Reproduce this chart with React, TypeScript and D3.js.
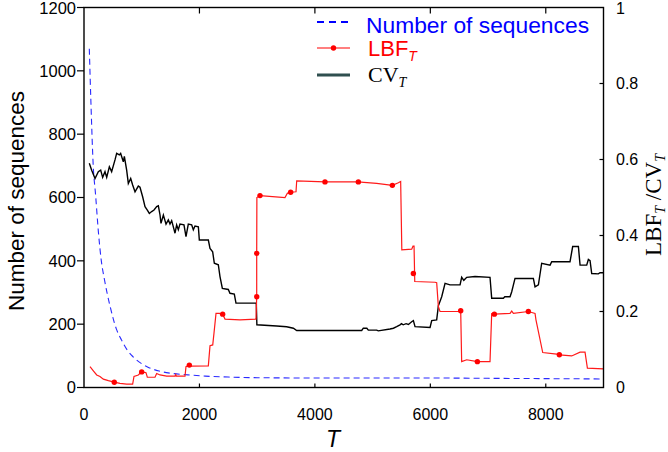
import React from "react";
import * as d3 from "d3";

// ---- data ----
const seqT = [92, 120, 160, 200, 250, 300, 350, 450, 560, 650, 750, 850, 1000, 1100, 1300, 1500, 1800, 2100, 2500, 3000, 4000, 5000, 6000, 7000, 8000, 9000];
const seqN = [1070, 900, 700, 610, 490, 400, 345, 258, 185, 150, 118, 97, 75, 65, 52, 45, 40, 36, 33, 31, 30, 30, 30, 29, 28, 27];

const lbfT = [104, 162, 220, 277, 335, 422, 525, 624, 739, 843, 866, 941, 999, 1050, 1074, 1097, 1230, 1259, 1317, 1432, 1577, 1590, 1600, 1750, 1767, 1825, 1840, 2154, 2183, 2230, 2252, 2287, 2345, 2402, 2443, 2703, 2980, 2992, 2992, 2995, 3049, 3482, 3523, 3580, 3673, 3685, 4175, 4753, 4850, 5070, 5342, 5446, 5486, 5506, 5677, 5700, 5718, 5730, 6081, 6110, 6139, 6168, 6515, 6526, 6543, 6630, 6815, 7034, 7063, 7109, 7381, 7410, 7439, 7698, 7814, 7830, 7947, 8190, 8235, 8449, 8594, 8680, 8721, 8998];
const lbfV = [0.055, 0.044, 0.033, 0.029, 0.022, 0.018, 0.014, 0.011, 0.009, 0.009, 0.029, 0.033, 0.041, 0.040, 0.039, 0.027, 0.027, 0.037, 0.033, 0.030, 0.030, 0.034, 0.030, 0.030, 0.055, 0.059, 0.056, 0.057, 0.110, 0.112, 0.143, 0.195, 0.195, 0.193, 0.180, 0.178, 0.180, 0.239, 0.353, 0.500, 0.505, 0.500, 0.511, 0.514, 0.515, 0.544, 0.541, 0.541, 0.540, 0.537, 0.532, 0.539, 0.542, 0.362, 0.364, 0.372, 0.372, 0.279, 0.277, 0.276, 0.213, 0.200, 0.200, 0.202, 0.068, 0.073, 0.068, 0.068, 0.194, 0.193, 0.195, 0.201, 0.195, 0.200, 0.195, 0.178, 0.092, 0.088, 0.086, 0.083, 0.093, 0.093, 0.051, 0.049];

const lbfDotT = [525, 999, 1825, 2402, 2992, 2992, 3049, 3580, 4175, 4753, 5342, 5706, 6526, 6815, 7109, 7698, 8235];
const lbfDotV = [0.014, 0.041, 0.059, 0.193, 0.239, 0.353, 0.505, 0.514, 0.541, 0.541, 0.532, 0.300, 0.202, 0.068, 0.193, 0.200, 0.086];

const cvT = [92, 133, 191, 248, 289, 323, 364, 393, 439, 479, 537, 566, 612, 635, 681, 699, 739, 768, 809, 843, 884, 941, 970, 1016, 1057, 1097, 1132, 1172, 1213, 1259, 1288, 1317, 1334, 1375, 1421, 1461, 1490, 1519, 1577, 1605, 1634, 1663, 1732, 1767, 1807, 1865, 1894, 1923, 1981, 1998, 2154, 2183, 2229, 2258, 2327, 2356, 2397, 2500, 2529, 2604, 2633, 2985, 2995, 3338, 3511, 3627, 3685, 4811, 4839, 4900, 4926, 5070, 5099, 5301, 5360, 5417, 5475, 5500, 5530, 5580, 5620, 5677, 5706, 5735, 5995, 6024, 6110, 6139, 6197, 6255, 6341, 6515, 6543, 6580, 6630, 6774, 7034, 7063, 7265, 7290, 7381, 7410, 7467, 7785, 7814, 7872, 7929, 8074, 8103, 8420, 8466, 8565, 8594, 8709, 8738, 8767, 8796, 8911, 8940, 8998];
const cvV = [0.590, 0.572, 0.550, 0.568, 0.572, 0.553, 0.568, 0.553, 0.581, 0.568, 0.599, 0.616, 0.612, 0.616, 0.594, 0.608, 0.572, 0.537, 0.550, 0.533, 0.515, 0.530, 0.527, 0.502, 0.476, 0.467, 0.458, 0.463, 0.467, 0.476, 0.478, 0.454, 0.432, 0.454, 0.430, 0.441, 0.430, 0.439, 0.406, 0.428, 0.415, 0.430, 0.428, 0.397, 0.430, 0.428, 0.415, 0.425, 0.423, 0.388, 0.388, 0.366, 0.357, 0.327, 0.323, 0.292, 0.261, 0.258, 0.248, 0.246, 0.222, 0.222, 0.165, 0.162, 0.160, 0.156, 0.150, 0.150, 0.156, 0.156, 0.151, 0.151, 0.149, 0.154, 0.156, 0.160, 0.165, 0.168, 0.165, 0.168, 0.166, 0.173, 0.176, 0.160, 0.158, 0.176, 0.178, 0.215, 0.239, 0.274, 0.270, 0.270, 0.290, 0.282, 0.290, 0.292, 0.290, 0.235, 0.235, 0.239, 0.239, 0.252, 0.287, 0.287, 0.265, 0.270, 0.327, 0.322, 0.331, 0.331, 0.371, 0.371, 0.322, 0.322, 0.337, 0.334, 0.300, 0.299, 0.302, 0.302];

const xTicks = [0, 2000, 4000, 6000, 8000];
const leftTicks = [0, 200, 400, 600, 800, 1000, 1200];
const rightTicks = [0, 0.2, 0.4, 0.6, 0.8, 1];
const rightTickLabels = ["0", "0.2", "0.4", "0.6", "0.8", "1"];

const W = 668, H = 452;
const M = { left: 84, right: 64.5, top: 7.5, bottom: 64.5 };
const SANS = "'Liberation Sans', Arial, Helvetica, sans-serif";
const SERIF = "'Liberation Serif', 'Times New Roman', serif";

export default function App() {
  const x = d3.scaleLinear().domain([0, 9000]).range([M.left, W - M.right]);
  const yL = d3.scaleLinear().domain([0, 1200]).range([H - M.bottom, M.top]);
  const yR = d3.scaleLinear().domain([0, 1]).range([H - M.bottom, M.top]);

  const seqPath = d3.line<number>().x((_, i) => x(seqT[i])).y((d) => yL(d)).curve(d3.curveMonotoneX)(seqN) || "";
  const lbfPath = d3.line<number>().x((_, i) => x(lbfT[i])).y((d) => yR(d))(lbfV) || "";
  const cvPath = d3.line<number>().x((_, i) => x(cvT[i])).y((d) => yR(d))(cvV) || "";

  const x0 = x(0), x1 = x(9000), y0 = yL(0), y1 = yL(1200);

  return (
    <svg width={W} height={H} style={{ position: "absolute", left: 0, top: 0, background: "#fff" }}>
      <rect x={0} y={0} width={W} height={H} fill="#fff" />
      {/* data lines */}
      <path d={seqPath} fill="none" stroke="#2a2aff" strokeWidth={1.1} strokeDasharray="6,4" />
      <path d={cvPath} fill="none" stroke="#000" strokeWidth={1.4} strokeLinejoin="miter" />
      <path d={lbfPath} fill="none" stroke="#ff1a1a" strokeWidth={1.2} />
      {lbfDotT.map((t, i) => (
        <circle key={i} cx={x(t)} cy={yR(lbfDotV[i])} r={2.7} fill="#ff0000" />
      ))}

      {/* frame */}
      <rect x={x0} y={y1} width={x1 - x0} height={y0 - y1} fill="none" stroke="#000" strokeWidth={1.4} />

      {/* bottom & top ticks */}
      {xTicks.filter((t) => t > 0).map((t) => (
        <g key={"xt" + t}>
          <line x1={x(t)} x2={x(t)} y1={y0} y2={y0 - 4} stroke="#000" strokeWidth={1.2} />
          <line x1={x(t)} x2={x(t)} y1={y1} y2={y1 + 6} stroke="#000" strokeWidth={1.2} />
        </g>
      ))}
      {xTicks.map((t) => (
        <text key={"xl" + t} x={x(t)} y={420} textAnchor="middle" fontFamily={SANS} fontSize={16} fill="#000">
          {t}
        </text>
      ))}

      {/* left ticks */}
      {leftTicks.map((t) => (
        <g key={"lt" + t}>
          <line x1={x0 - 7} x2={x0} y1={yL(t)} y2={yL(t)} stroke="#000" strokeWidth={1.2} />
          <text x={76} y={yL(t) + (t === 1200 ? 1 : 0)} dy="0.35em" textAnchor="end" fontFamily={SANS} fontSize={16.5} fill="#000">
            {t}
          </text>
        </g>
      ))}

      {/* right ticks */}
      {rightTicks.map((t, i) => (
        <g key={"rt" + t}>
          {t > 0 && t < 1 ? (
            <line x1={x1 - 4} x2={x1} y1={yR(t)} y2={yR(t)} stroke="#000" strokeWidth={1.2} />
          ) : null}
          <text x={616} y={yR(t) + (t === 1 ? 1 : 0)} dy="0.35em" textAnchor="start" fontFamily={SANS} fontSize={16} fill="#000">
            {rightTickLabels[i]}
          </text>
        </g>
      ))}

      {/* axis titles */}
      <text transform="translate(24,201) rotate(-90)" textAnchor="middle" fontFamily={SANS} fontSize={22.5} fill="#000">
        Number of sequences
      </text>
      <text x={333} y={447} textAnchor="middle" fontFamily={SANS} fontSize={23} fontStyle="italic" fill="#000">
        T
      </text>
      <text transform="translate(661,205) rotate(-90)" textAnchor="middle" fontFamily={SERIF} fontSize={23} fill="#000">
        LBF
        <tspan fontSize={14} fontStyle="italic" dy={3.5}>T</tspan>
        <tspan dy={-3.5}> /CV</tspan>
        <tspan fontSize={14} fontStyle="italic" dy={3.5}>T</tspan>
      </text>

      {/* legend */}
      <line x1={317} x2={350} y1={22} y2={22} stroke="#0000ff" strokeWidth={2} strokeDasharray="7,5" />
      <text x={366} y={33} fontFamily={SANS} fontSize={22.8} fill="#0000ff">
        Number of sequences
      </text>
      <line x1={317} x2={350} y1={48} y2={48} stroke="#ff0000" strokeWidth={1.2} />
      <circle cx={333.5} cy={48} r={2.7} fill="#ff0000" />
      <text x={368} y={56} fontFamily={SANS} fontSize={22} fill="#ff0000">
        LBF
        <tspan fontSize={14} fontStyle="italic" dy={5}>T</tspan>
      </text>
      <line x1={317} x2={350} y1={75} y2={75} stroke="#2f4f4f" strokeWidth={2.8} />
      <text x={368} y={82} fontFamily={SERIF} fontSize={22} fill="#000">
        CV
        <tspan fontSize={14} fontStyle="italic" dy={5}>T</tspan>
      </text>
    </svg>
  );
}
